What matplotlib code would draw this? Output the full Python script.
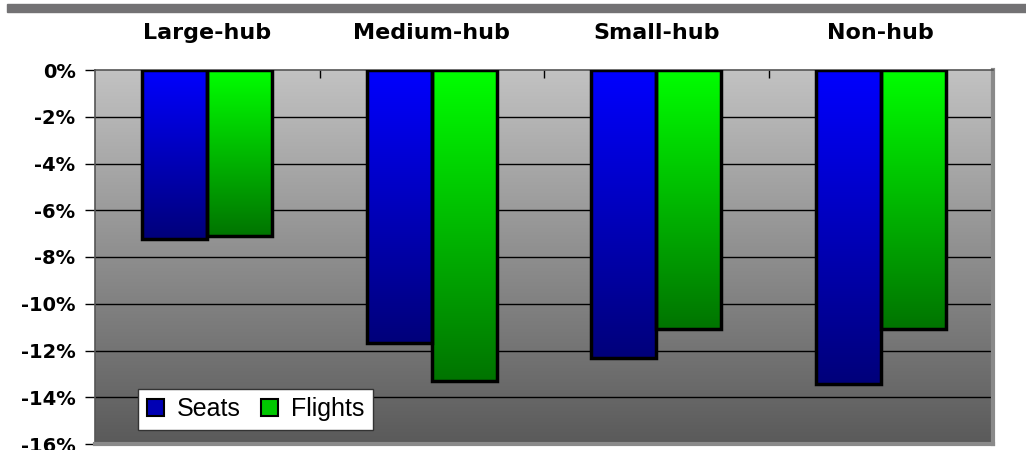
import numpy as np
import matplotlib
matplotlib.use('Agg')
import matplotlib.pyplot as plt
from matplotlib.patches import Rectangle
from matplotlib.colors import LinearSegmentedColormap

categories = ['Large-hub', 'Medium-hub', 'Small-hub', 'Non-hub']
seats = [-7.25, -11.7, -12.3, -13.45]
flights = [-7.1, -13.3, -11.1, -11.1]
yticks = [0, -2, -4, -6, -8, -10, -12, -14, -16]

plt.rcParams['font.family'] = ['Liberation Sans', 'DejaVu Sans']

fig = plt.figure(figsize=(10.26, 4.5), dpi=100)
ax = fig.add_axes([95 / 1026, 1 - 444 / 450, 898 / 1026, 374 / 450])

# top grey strip
fig.patches.append(Rectangle((7 / 1026, 1 - 12 / 450), 1, 8 / 450,
                             transform=fig.transFigure, color='#737274', zorder=0))

x = np.arange(len(categories))
w = 0.29

# background gradient, light at top, dark at bottom
grad = np.linspace(0, 1, 256).reshape(-1, 1)
bg_cmap = LinearSegmentedColormap.from_list('bg', ['#c2c2c2', '#5a5a5a'])
ax.imshow(grad, cmap=bg_cmap, aspect='auto', extent=[-0.5, 3.5, -16, 0],
          zorder=0, origin='upper')

for yv in yticks[1:-1]:
    ax.axhline(yv, color='black', lw=1.0, zorder=1)

blue = LinearSegmentedColormap.from_list('b', ['#0000ff', '#00007a'])
green = LinearSegmentedColormap.from_list('g', ['#00ff00', '#007400'])

for xi, s, f in zip(x, seats, flights):
    for left, val, cm in [(xi - w, s, blue), (xi, f, green)]:
        ax.imshow(grad, cmap=cm, aspect='auto', extent=[left, left + w, val, 0],
                  zorder=2, origin='upper')
        ax.add_patch(Rectangle((left, val), w, -val, fill=False,
                               edgecolor='black', lw=2.5, zorder=3))

ax.set_xlim(-0.5, len(categories) - 0.5)
ax.set_ylim(-16, 0)

ax.set_yticks(yticks)
ax.set_yticklabels([f'{v}%' for v in yticks], fontsize=14, fontweight='bold',
                   family=['DejaVu Sans'])
ax.tick_params(axis='y', length=7, width=1, pad=7)
ax.set_xticks(np.arange(0.5, len(categories) - 0.5))
ax.set_xticklabels([])
ax.tick_params(axis='x', top=True, bottom=False, direction='in', length=6, width=1)

for xi, name in zip(x, categories):
    ax.text(xi, 1.1, name, transform=ax.get_xaxis_transform(), ha='center',
            va='center', fontsize=16, fontweight='bold', family=['DejaVu Sans'])

for side in ['top', 'left']:
    ax.spines[side].set_color('#555555')
    ax.spines[side].set_linewidth(1.2)
for side in ['right', 'bottom']:
    ax.spines[side].set_color('#8a8a8a')
    ax.spines[side].set_linewidth(3)

handles = [Rectangle((0, 0), 1, 1, facecolor='#0000b4', edgecolor='black', lw=1.5),
           Rectangle((0, 0), 1, 1, facecolor='#00c800', edgecolor='black', lw=1.5)]
leg = ax.legend(handles, ['Seats', 'Flights'], loc='lower left', ncol=2,
                bbox_to_anchor=(43 / 898, 14 / 374), fontsize=18, frameon=True,
                fancybox=False, edgecolor='#333333', framealpha=1,
                handlelength=0.7, handleheight=0.7, handletextpad=0.5,
                columnspacing=0.8, borderpad=0.35, borderaxespad=0)
leg.get_frame().set_linewidth(1)

fig.savefig('out.png', dpi=100)
